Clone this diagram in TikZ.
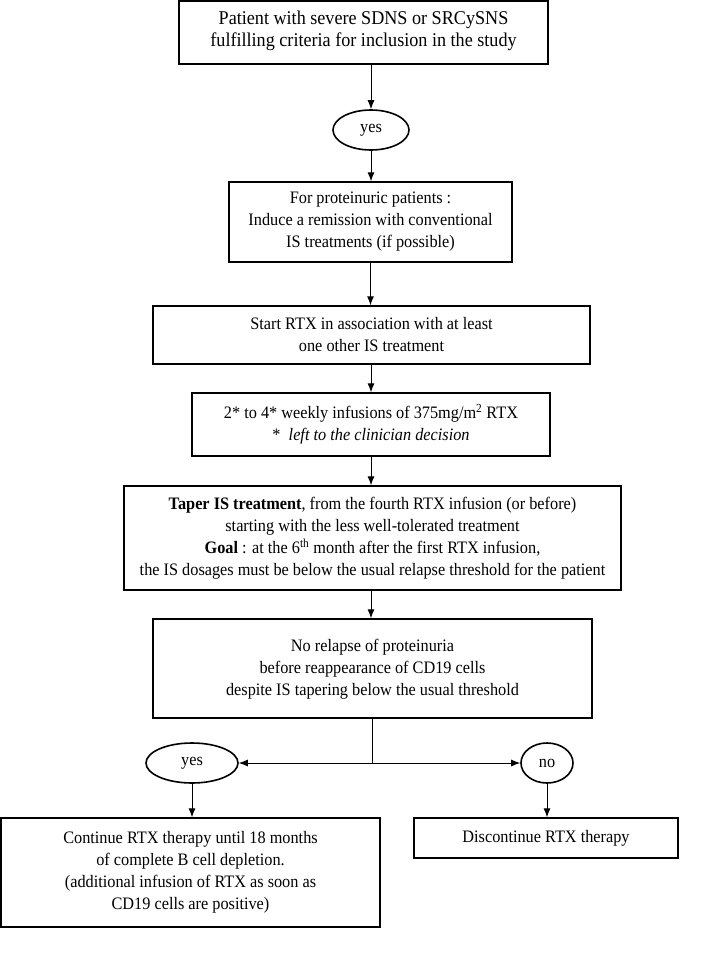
\documentclass[tikz,border=0pt]{standalone}
\usepackage{fontspec}
\setmainfont{Liberation Serif}[FakeStretch=0.93]
\usetikzlibrary{arrows.meta,shapes.geometric}
\begin{document}
\begin{tikzpicture}[x=1pt,y=-1pt,
  box/.style={draw,line width=1.4pt,align=center,inner sep=0pt,font=\fontsize{17.5}{22}\selectfont},
  oval/.style={draw,ellipse,line width=1.6pt,inner sep=0pt,font=\fontsize{17.5}{20}\selectfont},
  arr/.style={line width=0.9pt,-{Latex[length=9pt,width=7pt]}}]
\useasboundingbox (0,0) rectangle (716,955);
\node[box,minimum width=369pt,minimum height=63pt] (b1) at (363.5,32.5) {};
\node[align=center,font=\fontsize{19.5}{22}\selectfont] (t1) at (363.5,30.5) {Patient with severe SDNS or SRCySNS\\fulfilling criteria for inclusion in the study};
\node[oval,minimum width=76pt,minimum height=40pt] (y1) at (371,130) {yes};
\node[box,minimum width=283pt,minimum height=80pt] (b2) at (370.5,222) {For proteinuric patients :\\Induce a remission with conventional\\IS treatments (if possible)};
\node[box,minimum width=437pt,minimum height=58pt] (b3) at (371.5,335) {Start RTX in association with at least\\one other IS treatment};
\node[box,minimum width=358pt,minimum height=63pt] (b4) at (371,424.5) {2* to 4* weekly infusions of 375mg/m\textsuperscript{2} RTX\\*\ \ \textit{left to the clinician decision}};
\node[box,minimum width=497pt,minimum height=104pt] (b5) at (372.5,538) {\textbf{Taper IS treatment}, from the fourth RTX infusion (or before)\\starting with the less well-tolerated treatment\\\textbf{Goal} : at the 6\textsuperscript{th} month after the first RTX infusion,\\the IS dosages must be below the usual relapse threshold for the patient};
\node[box,minimum width=439pt,minimum height=99pt] (b6) at (372.5,668.5) {};
\node[align=center,font=\fontsize{17.5}{22}\selectfont] (t6) at (372.5,669) {No relapse of proteinuria\\before reappearance of CD19 cells\\despite IS tapering below the usual threshold};
\coordinate (j) at (372,763);
\node[oval,minimum width=92pt,minimum height=40pt] (y2) at (192,763) {yes};
\node[oval,minimum width=52pt,minimum height=40pt] (n2) at (547,763) {no};
\node[box,minimum width=379pt,minimum height=109pt] (b7) at (190.5,872.5) {Continue RTX therapy until 18 months\\of complete B cell depletion.\\(additional infusion of RTX as soon as\\CD19 cells are positive)};
\node[box,minimum width=264pt,minimum height=40pt] (b8) at (546,838) {Discontinue RTX therapy};
\draw[arr] (b1.south -| y1) -- (y1);
\draw[arr] (y1) -- (y1 |- b2.north);
\draw[arr] (b2) -- (b2 |- b3.north);
\draw[arr] (b3.south -| b4) -- (b4);
\draw[arr] (b4) -- (b4 |- b5.north);
\draw[arr] (b5.south -| b4) -- (b4 |- b6.north);
\draw[line width=0.9pt] (b6.south -| j) -- (j);
\draw[arr] (j) -- (y2);
\draw[arr] (j) -- (n2);
\draw[arr] (y2) -- (y2 |- b7.north);
\draw[arr] (n2) -- (n2 |- b8.north);
\end{tikzpicture}
\end{document}
